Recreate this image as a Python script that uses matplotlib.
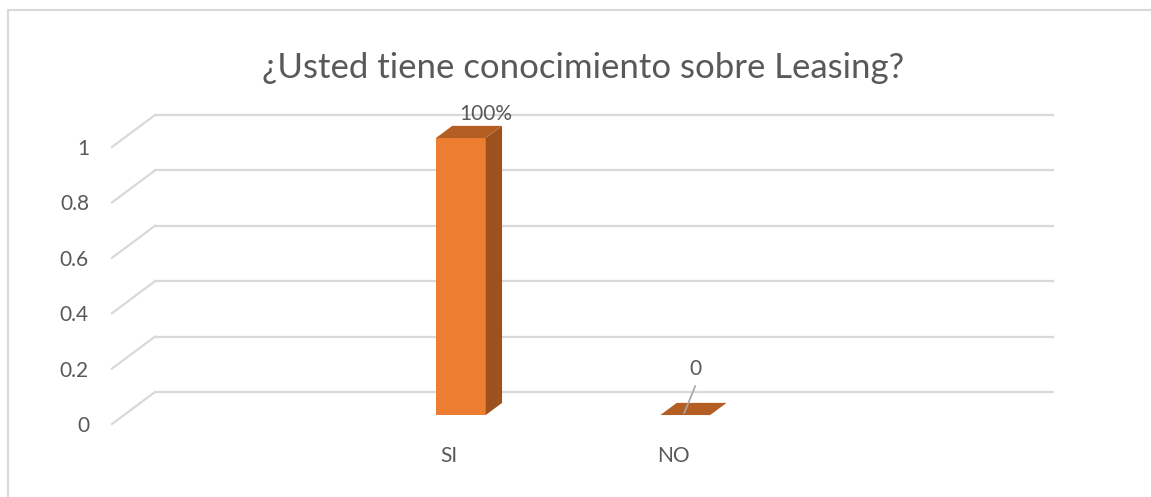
import matplotlib
matplotlib.use("Agg")
import matplotlib.pyplot as plt
from matplotlib.patches import Polygon
from matplotlib.lines import Line2D
import matplotlib.transforms as mtransforms

# ---- data ----
categories = ["SI", "NO"]
values = [1.0, 0.0]
value_labels = ["100%", "0"]
yticks = [0, 0.2, 0.4, 0.6, 0.8, 1]
ytick_labels = ["0", "0.2", "0.4", "0.6", "0.8", "1"]
title = "¿Usted tiene conocimiento sobre Leasing?"

DPI = 100
W, H = 1151, 497
fig = plt.figure(figsize=(W / DPI, H / DPI), dpi=DPI)
plt.rcParams['font.family'] = ['Lato', 'DejaVu Sans']

TXT = "#595959"
GRID = "#D9D9D9"
FRONT = "#ED7D31"
TOP = "#B55E24"
SIDE = "#9E501D"
FS = 15

# axes = back wall plane
ax_l, ax_r = 155 / W, 1053 / W
ax_b, ax_t = (H - 392) / H, (H - 115) / H
ax = fig.add_axes([ax_l, ax_b, ax_r - ax_l, ax_t - ax_b])
ax.set_xlim(-1.5, 2.5)
ax.set_ylim(0, 1)
ax.axis("off")

# depth vector (pixels) from back plane to front plane
DX, DY = -43, -32


def depth_tr(t):
    """t=1 back plane, t=0 front plane"""
    f = 1 - t
    return ax.transData + mtransforms.ScaledTranslation(f * DX / DPI, f * DY / DPI, fig.dpi_scale_trans)


def shift(tr, dx, dy):
    return tr + mtransforms.ScaledTranslation(dx / DPI, dy / DPI, fig.dpi_scale_trans)


back = depth_tr(1.0)
front = depth_tr(0.0)

# gridlines with diagonal on the left side
x0, x1 = ax.get_xlim()
for yv, lab in zip(yticks, ytick_labels):
    ax.add_line(Line2D([x0, x1], [yv, yv], color=GRID, lw=1.6, transform=back, clip_on=False))
    p_back = back.transform((x0, yv))
    p_front = front.transform((x0, yv))
    fig.add_artist(Line2D([p_front[0], p_back[0]], [p_front[1], p_back[1]], color=GRID, lw=1.6,
                          transform=None))
    ax.text(x0, yv, lab, transform=shift(front, -23, -2),
            ha="right", va="center", fontsize=FS, color=TXT, clip_on=False)

# bars
bw = 0.111
t_front, t_back = 0.28, 0.66
trF = depth_tr(t_front)
trB = depth_tr(t_back)
disp = lambda tr, pt: tr.transform(pt)
for i, (cat, v, lab) in enumerate(zip(categories, values, value_labels)):
    fl, fr = i - bw, i + bw
    if v > 0:
        pts = [disp(trF, (fl, 0)), disp(trF, (fr, 0)), disp(trF, (fr, v)), disp(trF, (fl, v))]
        fig.add_artist(Polygon(pts, closed=True, facecolor=FRONT, edgecolor="none", transform=None))
        pts = [disp(trF, (fr, 0)), disp(trB, (fr, 0)), disp(trB, (fr, v)), disp(trF, (fr, v))]
        fig.add_artist(Polygon(pts, closed=True, facecolor=SIDE, edgecolor="none", transform=None))
    pts = [disp(trF, (fl, v)), disp(trF, (fr, v)), disp(trB, (fr, v)), disp(trB, (fl, v))]
    fig.add_artist(Polygon(pts, closed=True, facecolor=TOP, edgecolor="none", transform=None))

    # category label on front plane
    ax.text(i, 0, cat, transform=shift(front, 0, -32),
            ha="center", va="center", fontsize=FS, color=TXT, clip_on=False)

    # value label
    if v > 0:
        ax.text(i, v, lab, transform=shift(back, -6, 1),
                ha="center", va="center", fontsize=FS, color=TXT, clip_on=False)
    else:
        ax.text(i, v, lab, transform=shift(back, -21, 23),
                ha="center", va="center", fontsize=FS, color=TXT, clip_on=False)
        p1 = back.transform((i, v))
        fig.add_artist(Line2D([p1[0] - 21, p1[0] - 32], [p1[1] + 6, p1[1] - 21],
                              color="#A6A6A6", lw=1.2, transform=None))

# title
fig.text(583 / W, 1 - 68 / H, title, ha="center", va="center", fontsize=25, color=TXT)

# chart border (top and left visible)
fig.add_artist(Line2D([8 / W, 1.0], [1 - 10 / H, 1 - 10 / H], color=GRID, lw=1.5, transform=fig.transFigure))
fig.add_artist(Line2D([8 / W, 8 / W], [0, 1 - 10 / H], color=GRID, lw=1.5, transform=fig.transFigure))

fig.savefig("out.png", dpi=DPI)
